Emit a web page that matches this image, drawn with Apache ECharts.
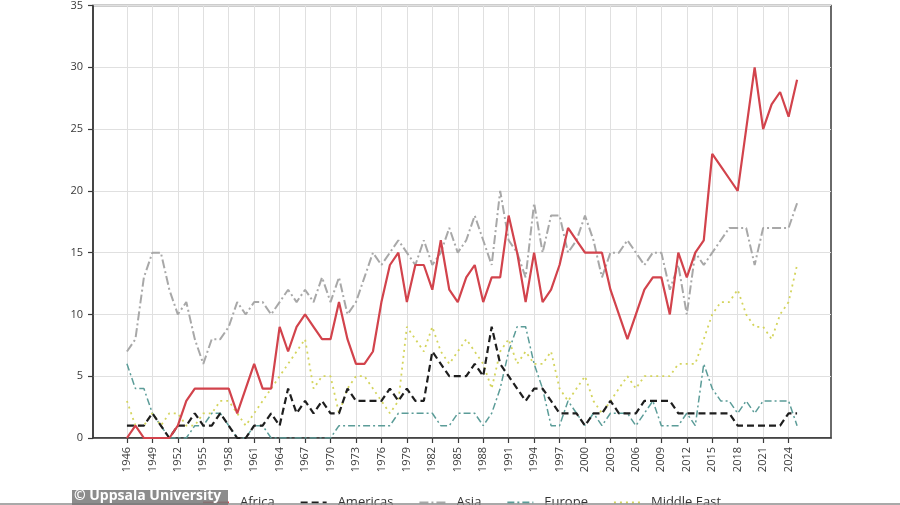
<!DOCTYPE html>
<html>
<head>
<meta charset="utf-8">
<script src="https://cdn.jsdelivr.net/npm/echarts@6/dist/echarts.min.js"></script>
<style>
html,body{margin:0;padding:0;background:#fff;}
#chart{width:900px;height:505px;}
</style>
</head>
<body>
<div id="chart"></div>
<script>
// Axis categories (padding years either side of the data, as in the source)
const axisStart = 1942, axisEnd = 2029;
const firstYear = 1946, lastYear = 2025;
const labelStep = 3, lastLabel = 2024;

const africa = [0,1,0,0,0,0,1,3,4,4,4,4,4,2,4,6,4,4,9,7,9,10,9,8,8,11,8,6,6,7,11,14,15,11,14,14,12,16,12,11,13,14,11,13,13,18,15,11,15,11,12,14,17,16,15,15,15,12,10,8,10,12,13,13,10,15,13,15,16,23,22,21,20,25,30,25,27,28,26,29];
const americas = [1,1,1,2,1,0,1,1,2,1,1,2,1,0,0,1,1,2,1,4,2,3,2,3,2,2,4,3,3,3,3,4,3,4,3,3,7,6,5,5,5,6,5,9,6,5,4,3,4,4,3,2,2,2,1,2,2,3,2,2,2,3,3,3,3,2,2,2,2,2,2,2,1,1,1,1,1,1,2,2];
const asia = [7,8,13,15,15,12,10,11,8,6,8,8,9,11,10,11,11,10,11,12,11,12,11,13,11,13,10,11,13,15,14,15,16,15,14,16,14,15,17,15,16,18,16,14,20,16,15,13,19,15,18,18,15,16,18,16,13,15,15,16,15,14,15,15,12,14,10,15,14,15,16,17,17,17,14,17,17,17,17,19];
const europe = [6,4,4,2,1,0,0,0,1,1,2,2,1,0,0,1,1,0,0,0,0,0,0,0,0,1,1,1,1,1,1,1,2,2,2,2,2,1,1,2,2,2,1,2,4,7,9,9,6,4,1,1,3,2,1,2,1,2,2,2,1,2,3,1,1,1,2,1,6,4,3,3,2,3,2,3,3,3,3,1];
const middleEast = [3,1,1,2,1,2,2,1,1,2,2,3,3,2,1,2,3,4,5,6,7,8,4,5,5,2,4,5,5,4,3,2,3,9,8,7,9,7,6,7,8,7,6,4,7,8,6,7,6,6,7,4,3,4,5,3,2,3,4,5,4,5,5,5,5,6,6,6,8,10,11,11,12,10,9,9,8,10,11,14];

const seriesNames = ['Africa','Americas','Asia','Europe','Middle East'];
const yTicks = {min:0, max:35, interval:5};

const axisYears = [];
for (let y = axisStart; y <= axisEnd; y++) axisYears.push(String(y));
const dataYears = [];
for (let y = firstYear; y <= lastYear; y++) dataYears.push(String(y));
const pairs = arr => dataYears.map((y, i) => [y, arr[i]]);

const showTick = (idx, val) => {
  const y = +val;
  return y >= firstYear && y <= lastLabel && (y - firstYear) % labelStep === 0;
};

const font = '"Open Sans", "Noto Sans", sans-serif';
const chart = echarts.init(document.getElementById('chart'), null, {renderer:'canvas'});

chart.setOption({
  animation:false,
  backgroundColor:'#ffffff',
  textStyle:{fontFamily:font},
  grid:{left:93, right:69, top:1, bottom:67, show:true, borderColor:'#3a3a3a', borderWidth:1.5, backgroundColor:'transparent'},
  xAxis:{
    type:'category', data:axisYears, boundaryGap:false,
    axisLine:{lineStyle:{color:'#3a3a3a', width:1.5}},
    axisTick:{show:true, interval:showTick, length:5, lineStyle:{color:'#3a3a3a', width:1.2}},
    axisLabel:{interval:showTick, rotate:90, margin:9, color:'#3a3a3a', fontSize:11, fontFamily:font},
    splitLine:{show:true, interval:showTick, lineStyle:{color:'#e0e0e0', width:1}}
  },
  yAxis:{
    type:'value', min:yTicks.min, max:yTicks.max, interval:yTicks.interval,
    axisLine:{show:true, lineStyle:{color:'#3a3a3a', width:1.5}},
    axisTick:{show:true, length:5, lineStyle:{color:'#3a3a3a', width:1.2}},
    axisLabel:{margin:10, color:'#3a3a3a', fontSize:11, fontFamily:font},
    splitLine:{show:true, lineStyle:{color:'#e0e0e0', width:1}}
  },
  legend:{
    left:197, top:491, itemWidth:26, itemHeight:14, itemGap:25,
    itemStyle:{opacity:0},
    textStyle:{fontSize:13, color:'#333', fontFamily:font, padding:[0,0,0,6]},
    data:seriesNames
  },
  series:[
    {name:'Americas', type:'line', data:pairs(americas), symbol:'none', z:3,
     lineStyle:{color:'#1e1e1e', width:2.2, type:[7,4]}, itemStyle:{color:'#1e1e1e'}},
    {name:'Asia', type:'line', data:pairs(asia), symbol:'none', z:2,
     lineStyle:{color:'#a8a8a8', width:2, type:[9,3,2,3]}, itemStyle:{color:'#a8a8a8'}},
    {name:'Europe', type:'line', data:pairs(europe), symbol:'none', z:2,
     lineStyle:{color:'#5b9c98', width:1.5, type:[7,3,2,3]}, itemStyle:{color:'#5b9c98'}},
    {name:'Middle East', type:'line', data:pairs(middleEast), symbol:'none', z:2,
     lineStyle:{color:'#d4d45c', width:1.8, type:[2,4]}, itemStyle:{color:'#d4d45c'}},
    {name:'Africa', type:'line', data:pairs(africa), symbol:'none', z:4,
     lineStyle:{color:'#d2434c', width:2.2, type:'solid'}, itemStyle:{color:'#d2434c'}}
  ],
  graphic:[
    {type:'line', shape:{x1:0, y1:504, x2:900, y2:504}, style:{stroke:'#8c8c8c', lineWidth:1.5}, z:100},
    {type:'rect', shape:{x:72, y:490, width:156, height:15}, style:{fill:'rgba(120,120,120,0.85)'}, z:101},
    {type:'text', left:74, top:489, style:{text:'© Uppsala University', fill:'#ffffff', font:'bold 14px ' + font}, z:102}
  ]
});
</script>
</body>
</html>
